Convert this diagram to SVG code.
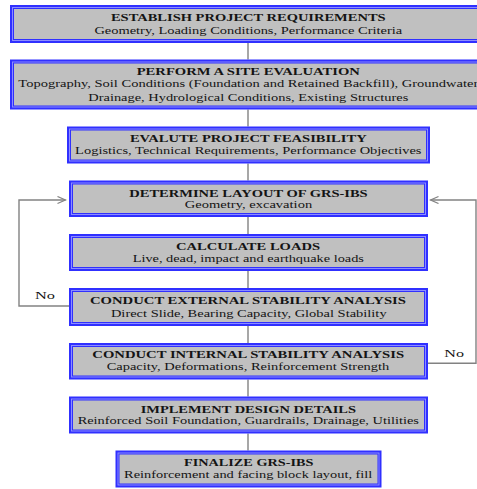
<svg xmlns="http://www.w3.org/2000/svg" width="477" height="489" viewBox="0 0 477 489">
<style>
.ob{fill:#8c8cff;stroke:#3030ff;stroke-width:2}
.ib{fill:#c0c0c0;stroke:#3030ff;stroke-width:1}
.t{font-family:"Liberation Serif","Times New Roman",serif;font-size:11px;font-weight:bold;fill:#141414;text-anchor:middle}
.s{font-family:"Liberation Serif","Times New Roman",serif;font-size:11px;fill:#141414;text-anchor:middle}
.lbl{font-family:"Liberation Serif","Times New Roman",serif;font-size:11px;fill:#141414}
.c{fill:none;stroke:#828282;stroke-width:1.4}
</style>
<defs>
<marker id="arr" markerUnits="userSpaceOnUse" markerWidth="10" markerHeight="9" refX="8.5" refY="4" orient="auto">
<path d="M0.5,0.5 L8.5,4 L0.5,7.5" fill="none" stroke="#828282" stroke-width="1.2"/>
</marker>
</defs>
<g id="connectors">
<line class="c" x1="248" y1="43" x2="248" y2="59.5"/>
<line class="c" x1="248" y1="109.5" x2="248" y2="126.5"/>
<line class="c" x1="248" y1="163.5" x2="248" y2="180.5"/>
<line class="c" x1="248" y1="217" x2="248" y2="234"/>
<line class="c" x1="248" y1="271" x2="248" y2="288"/>
<line class="c" x1="248" y1="326" x2="248" y2="343"/>
<line class="c" x1="248" y1="379.5" x2="248" y2="396.5"/>
<line class="c" x1="248" y1="433.5" x2="248" y2="450.5"/>
<polyline class="c" points="69,306 19,306 19,200 65.5,200" marker-end="url(#arr)"/>
<polyline class="c" points="428,363.3 476,363.3 476,200 430.5,200" marker-end="url(#arr)"/>
<text class="lbl" x="35" y="299.3" textLength="20" lengthAdjust="spacingAndGlyphs">No</text>
<text class="lbl" x="444.3" y="356.7" textLength="19.7" lengthAdjust="spacingAndGlyphs">No</text>
</g>
<g id="n1">
<rect class="ob" x="11" y="6" width="478" height="36"/>
<rect class="ib" x="13.5" y="8.5" width="473" height="31"/>
<text class="t" x="248.3" y="20.7" textLength="274.7" lengthAdjust="spacingAndGlyphs">ESTABLISH PROJECT REQUIREMENTS</text>
<text class="s" x="248.3" y="33.5" textLength="307.7" lengthAdjust="spacingAndGlyphs">Geometry, Loading Conditions, Performance Criteria</text>
</g>
<g id="n2">
<rect class="ob" x="11" y="60.5" width="478" height="48"/>
<rect class="ib" x="13.5" y="63" width="473" height="43"/>
<text class="t" x="248.3" y="75" textLength="223.3" lengthAdjust="spacingAndGlyphs">PERFORM A SITE EVALUATION</text>
<text class="s" x="248.3" y="87.3" textLength="460" lengthAdjust="spacingAndGlyphs">Topography, Soil Conditions (Foundation and Retained Backfill), Groundwater</text>
<text class="s" x="248.3" y="100.7" textLength="320" lengthAdjust="spacingAndGlyphs">Drainage, Hydrological Conditions, Existing Structures</text>
</g>
<g id="n3">
<rect class="ob" x="68" y="127.5" width="361" height="35"/>
<rect class="ib" x="70.5" y="130" width="356" height="30"/>
<text class="t" x="248.3" y="141.7" textLength="236.7" lengthAdjust="spacingAndGlyphs">EVALUTE PROJECT FEASIBILITY</text>
<text class="s" x="248.3" y="154" textLength="346.4" lengthAdjust="spacingAndGlyphs">Logistics, Technical Requirements, Performance Objectives</text>
</g>
<g id="n4">
<rect class="ob" x="70" y="181.5" width="357" height="34.5"/>
<rect class="ib" x="72.5" y="184" width="352" height="29.5"/>
<text class="t" x="248.5" y="196.7" textLength="238.4" lengthAdjust="spacingAndGlyphs">DETERMINE LAYOUT OF GRS-IBS</text>
<text class="s" x="248.5" y="207.7" textLength="127.4" lengthAdjust="spacingAndGlyphs">Geometry, excavation</text>
</g>
<g id="n5">
<rect class="ob" x="70" y="235" width="357" height="35"/>
<rect class="ib" x="72.5" y="237.5" width="352" height="30"/>
<text class="t" x="248" y="250" textLength="144" lengthAdjust="spacingAndGlyphs">CALCULATE LOADS</text>
<text class="s" x="248.3" y="262.3" textLength="231.3" lengthAdjust="spacingAndGlyphs">Live, dead, impact and earthquake loads</text>
</g>
<g id="n6">
<rect class="ob" x="70" y="289" width="357" height="36"/>
<rect class="ib" x="72.5" y="291.5" width="352" height="31"/>
<text class="t" x="248" y="304" textLength="316" lengthAdjust="spacingAndGlyphs">CONDUCT EXTERNAL STABILITY ANALYSIS</text>
<text class="s" x="248.8" y="316.7" textLength="275.7" lengthAdjust="spacingAndGlyphs">Direct Slide, Bearing Capacity, Global Stability</text>
</g>
<g id="n7">
<rect class="ob" x="70" y="344" width="357" height="34.5"/>
<rect class="ib" x="72.5" y="346.5" width="352" height="29.5"/>
<text class="t" x="248.2" y="358.3" textLength="311.7" lengthAdjust="spacingAndGlyphs">CONDUCT INTERNAL STABILITY ANALYSIS</text>
<text class="s" x="248" y="370" textLength="282.6" lengthAdjust="spacingAndGlyphs">Capacity, Deformations, Reinforcement Strength</text>
</g>
<g id="n8">
<rect class="ob" x="70" y="397.5" width="357" height="35"/>
<rect class="ib" x="72.5" y="400" width="352" height="30"/>
<text class="t" x="248.3" y="412.7" textLength="215.3" lengthAdjust="spacingAndGlyphs">IMPLEMENT DESIGN DETAILS</text>
<text class="s" x="248.3" y="424.3" textLength="341.3" lengthAdjust="spacingAndGlyphs">Reinforced Soil Foundation, Guardrails, Drainage, Utilities</text>
</g>
<g id="n9">
<rect class="ob" x="116.5" y="451.5" width="264" height="35"/>
<rect class="ib" x="119" y="454" width="259" height="30"/>
<text class="t" x="248.7" y="466" textLength="129.3" lengthAdjust="spacingAndGlyphs">FINALIZE GRS-IBS</text>
<text class="s" x="248.2" y="478.3" textLength="248.3" lengthAdjust="spacingAndGlyphs">Reinforcement and facing block layout, fill</text>
</g>
</svg>
